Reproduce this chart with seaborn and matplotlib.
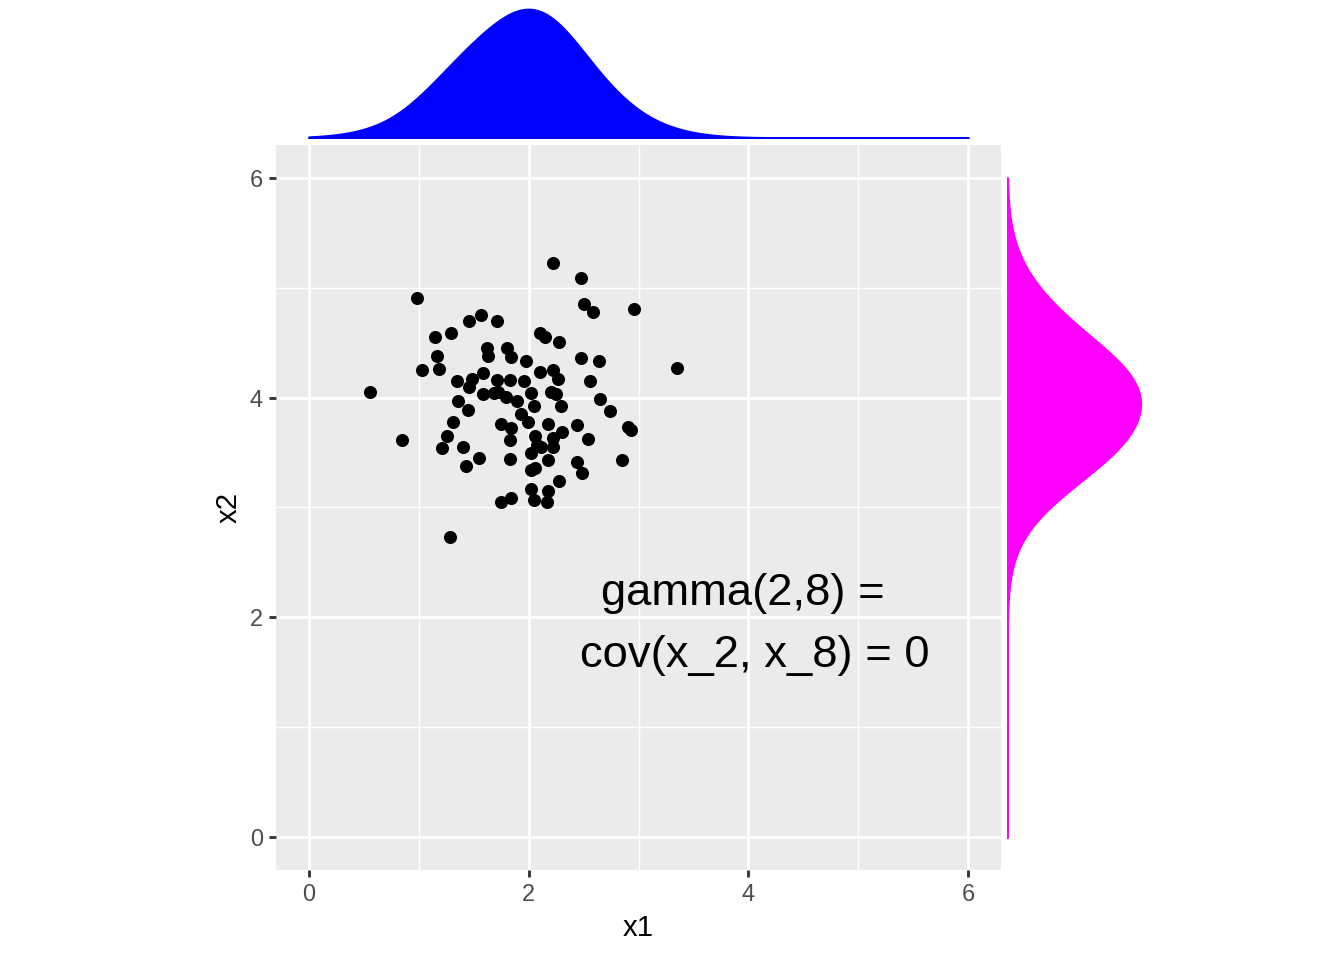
"""
Scatter of x1 vs x2 with marginal densities (ggplot-like look).
"""
import numpy as np
import pandas as pd
import matplotlib
matplotlib.use("Agg")
import matplotlib.pyplot as plt
import seaborn as sns
from matplotlib.ticker import MultipleLocator

# Data
x1 = [0.56, 0.85, 0.98, 1.03, 1.15, 1.17, 1.18, 1.21, 1.26, 1.28,
      1.29, 1.31, 1.35, 1.36, 1.40, 1.43, 1.45, 1.46, 1.46, 1.48,
      1.55, 1.57, 1.58, 1.58, 1.62, 1.63, 1.68, 1.71, 1.71, 1.72,
      1.75, 1.75, 1.79, 1.80, 1.83, 1.83, 1.83, 1.84, 1.84, 1.84,
      1.89, 1.93, 1.96, 1.98, 1.99, 2.02, 2.02, 2.02, 2.02, 2.05,
      2.05, 2.06, 2.06, 2.08, 2.10, 2.10, 2.11, 2.15, 2.17, 2.18,
      2.18, 2.18, 2.20, 2.22, 2.22, 2.22, 2.22, 2.25, 2.27, 2.28,
      2.28, 2.29, 2.30, 2.44, 2.44, 2.48, 2.48, 2.49, 2.50, 2.54,
      2.56, 2.59, 2.64, 2.65, 2.74, 2.85, 2.90, 2.93, 2.96, 3.35]
x2 = [4.05, 3.61, 4.91, 4.25, 4.55, 4.38, 4.26, 3.54, 3.65, 2.73,
      4.59, 3.78, 4.15, 3.97, 3.55, 3.38, 3.89, 4.70, 4.10, 4.17,
      3.45, 4.75, 4.22, 4.03, 4.45, 4.38, 4.04, 4.70, 4.16, 4.05,
      3.05, 3.76, 4.01, 4.45, 4.16, 3.61, 3.44, 4.37, 3.72, 3.09,
      3.97, 3.85, 4.15, 4.33, 3.78, 4.04, 3.50, 3.34, 3.17, 3.92,
      3.07, 3.65, 3.36, 3.57, 4.59, 4.23, 3.55, 4.55, 3.05, 3.76,
      3.43, 3.15, 4.05, 5.23, 4.25, 3.63, 3.55, 4.03, 4.17, 4.51,
      3.24, 3.92, 3.69, 3.75, 3.41, 5.09, 4.36, 3.31, 4.85, 3.62,
      4.15, 4.78, 4.33, 3.99, 3.88, 3.43, 3.73, 3.71, 4.81, 4.27]

ticks = [0, 2, 4, 6]
label_line1 = "gamma(2,8) ="
label_line2 = "cov(x_2, x_8) = 0"

df = pd.DataFrame({"x1": x1, "x2": x2})

sns.set_theme(style="white")
plt.rcParams['font.family'] = ['Liberation Sans', 'DejaVu Sans']

fig = plt.figure(figsize=(7, 5), dpi=192)
W, H = 1344, 960

# main panel (pixel box 276..1001 x 145..870)
ax = fig.add_axes([276 / W, 1 - 870 / H, 725 / W, 725 / H])
ax_top = fig.add_axes([276 / W, 1 - 138 / H, 725 / W, 135 / H])
ax_right = fig.add_axes([1007 / W, 1 - 870 / H, 140 / W, 725 / H])

ax.set_facecolor("#EBEBEB")
sns.scatterplot(data=df, x="x1", y="x2", ax=ax, color="black", s=24,
                linewidth=0, zorder=3)
ax.set_xlim(-0.3, 6.3)
ax.set_ylim(-0.3, 6.3)
ax.set_xticks(ticks)
ax.set_yticks(ticks)
ax.xaxis.set_minor_locator(MultipleLocator(1))
ax.yaxis.set_minor_locator(MultipleLocator(1))
ax.grid(which="major", color="white", linewidth=1.07)
ax.grid(which="minor", color="white", linewidth=0.53)
ax.set_axisbelow(True)
for s in ax.spines.values():
    s.set_visible(False)
ax.tick_params(which="major", length=2.75, width=1.07, color="#333333",
               labelsize=8.8, labelcolor="#4D4D4D", pad=2.2,
               bottom=True, left=True)
ax.tick_params(which="minor", length=0)
ax.set_xlabel("x1", fontsize=11, color="black", labelpad=2.75)
ax.set_ylabel("x2", fontsize=11, color="black", labelpad=2.75)

ax.text(3.95, 2.22, label_line1, ha="center", va="center", fontsize=17,
        color="black", zorder=2)
ax.text(4.06, 1.65, label_line2, ha="center", va="center", fontsize=17,
        color="black", zorder=2)

# marginal densities
sns.kdeplot(data=df, x="x1", ax=ax_top, fill=True, color="blue", alpha=1,
            bw_adjust=1.6, clip=(0, 6), cut=20, linewidth=1.0)
ax_top.set_xlim(-0.3, 6.3)
ax_top.set_ylim(bottom=0)
ax_top.margins(y=0.01)
ax_top.axis("off")

sns.kdeplot(data=df, y="x2", ax=ax_right, fill=True, color="magenta",
            alpha=1, bw_adjust=1.6, clip=(0, 6), cut=20, linewidth=1.0)
ax_right.set_ylim(-0.3, 6.3)
ax_right.set_xlim(left=0)
ax_right.margins(x=0.01)
ax_right.axis("off")

fig.savefig("out.png", dpi=192)
